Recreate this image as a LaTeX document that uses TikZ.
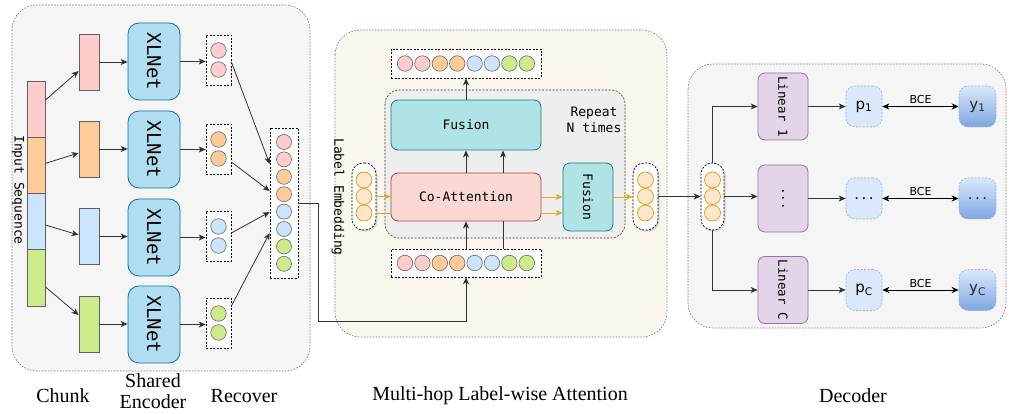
\documentclass[tikz,border=0pt]{standalone}
\usepackage{graphicx}
\usepackage{fontspec}
\setmainfont{Liberation Serif}
\newfontfamily\monof{DejaVu Sans Mono}
\newfontfamily\sansf{DejaVu Sans}
\usetikzlibrary{arrows.meta,shadows}
\definecolor{cpink}{HTML}{FFCCCC}
\definecolor{corange}{HTML}{FFCC99}
\definecolor{cblue}{HTML}{CCE5FF}
\definecolor{cgreen}{HTML}{CDEB8B}
\definecolor{cdark}{HTML}{36393D}
\definecolor{xlfill}{HTML}{B1DDF0}
\definecolor{xldraw}{HTML}{10739E}
\definecolor{fufill}{HTML}{B0E3E6}
\definecolor{fudraw}{HTML}{0E8088}
\definecolor{cofill}{HTML}{FAD9D5}
\definecolor{codraw}{HTML}{AE4132}
\definecolor{lifill}{HTML}{E1D5E7}
\definecolor{lidraw}{HTML}{9673A6}
\definecolor{pfill}{HTML}{DAE8FC}
\definecolor{pdraw}{HTML}{6C8EBF}
\definecolor{ydark}{HTML}{7EA6E0}
\definecolor{lefill}{HTML}{FFE6CC}
\definecolor{ledraw}{HTML}{D79B00}
\definecolor{panelA}{HTML}{F5F5F5}
\definecolor{panelB}{HTML}{F9F7ED}
\definecolor{repfill}{HTML}{EEEEEE}
\tikzset{
  panel/.style={draw=black!55, dash pattern=on 1.5pt off 1.5pt, rounded corners=25pt, line width=0.6pt},
  seg/.style={draw=cdark!80, line width=0.8pt, inner sep=0, minimum width=18pt, minimum height=56.25pt},
  chunkbox/.style={draw=cdark!80, line width=0.8pt, inner sep=0, minimum width=20pt, minimum height=56pt},
  xl/.style={draw=xldraw, fill=xlfill, line width=0.8pt, rounded corners=11pt, inner sep=0,
    minimum width=52pt, minimum height=77pt, font=\monof\fontsize{19}{19}\selectfont},
  dbox/.style={draw=black, fill=white, dash pattern=on 2pt off 1.5pt, line width=0.7pt, inner sep=0},
  pill/.style={draw=black, fill=white, dash pattern=on 2pt off 1.5pt, line width=0.7pt, inner sep=0,
    rounded corners=11pt, drop shadow={shadow xshift=1.5pt, shadow yshift=-1.5pt, opacity=0.3}},
  dot/.style={circle, draw=black!60, line width=0.6pt, minimum size=15.5pt, inner sep=0},
  ldot/.style={circle, draw=ledraw, fill=lefill, line width=0.7pt, minimum size=16pt, inner sep=0},
  mono/.style={font=\monof\fontsize{13}{16}\selectfont},
  fusbox/.style={draw=fudraw, fill=fufill, line width=0.8pt, rounded corners=7pt, inner sep=0, mono},
  cobox/.style={draw=codraw, fill=cofill, line width=0.8pt, rounded corners=7pt, inner sep=0, mono},
  linbox/.style={draw=lidraw, fill=lifill, line width=0.8pt, rounded corners=7pt, inner sep=0,
    minimum width=50pt, minimum height=67pt, font=\monof\fontsize{12.5}{15}\selectfont},
  pbox/.style={draw=pdraw!70, fill=pfill, dash pattern=on 2pt off 1.5pt, line width=0.6pt, rounded corners=9pt,
    inner sep=0, minimum width=36pt, minimum height=41pt, font=\sansf\fontsize{15}{15}\selectfont},
  ybox/.style={draw=pdraw!70, top color=pfill, bottom color=ydark, dash pattern=on 2pt off 1.5pt, line width=0.6pt,
    rounded corners=9pt, inner sep=0, minimum width=37pt, minimum height=41pt,
    font=\sansf\fontsize{15}{15}\selectfont, text=black!85},
  arr/.style={draw=black!80, line width=0.8pt, -{Stealth[length=7pt,width=6pt,inset=2pt]}},
  plain/.style={draw=black!80, line width=0.8pt},
  oarr/.style={draw=ledraw!85, line width=0.8pt, -{Stealth[length=7pt,width=6pt,inset=2pt]}},
  oplain/.style={draw=ledraw!85, line width=0.8pt},
  barr/.style={draw=black, line width=0.8pt, {Stealth[length=7pt,width=6pt,inset=2pt]}-{Stealth[length=7pt,width=6pt,inset=2pt]}},
  captxt/.style={font=\fontsize{20}{21}\selectfont, align=center}
}
\newcommand{\spdots}{.\hspace{2.5pt}.\hspace{2.5pt}.}
\begin{document}
\begin{tikzpicture}[x=1pt,y=-1pt]
\useasboundingbox[fill=white] (0,0) rectangle (1009,414);

% ---------- panels ----------
\draw[panel, fill=panelA] (12,5) rectangle (310,371);
\draw[panel, fill=panelB] (335,30) rectangle (667,337);
\draw[panel, fill=panelA] (688,64) rectangle (1006,328);

% ---------- panel 1 ----------
\node[seg, fill=cpink]   (s1) at (36,109.1) {};
\node[seg, fill=corange] (s2) at (36,165.4) {};
\node[seg, fill=cblue]   (s3) at (36,221.6) {};
\node[seg, fill=cgreen]  (s4) at (36,277.9) {};
\node[mono, rotate=-90] (inseq) at (18,190) {Input Sequence};

\node[chunkbox, fill=cpink]   (k1) at (89,62) {};
\node[chunkbox, fill=corange] (k2) at (89,149) {};
\node[chunkbox, fill=cblue]   (k3) at (89,236.5) {};
\node[chunkbox, fill=cgreen]  (k4) at (89,324) {};

\node[xl] (x1) at (154,61.5) {\rotatebox{-90}{XLNet}};
\node[xl] (x2) at (154,149.5) {\rotatebox{-90}{XLNet}};
\node[xl] (x3) at (154,237.5) {\rotatebox{-90}{XLNet}};
\node[xl] (x4) at (154,324.5) {\rotatebox{-90}{XLNet}};

\node[dbox, minimum width=25pt, minimum height=50pt] (r1) at (218.5,60) {};
\node[dbox, minimum width=25pt, minimum height=50pt] (r2) at (218.5,149) {};
\node[dbox, minimum width=25pt, minimum height=50pt] (r3) at (218.5,236) {};
\node[dbox, minimum width=25pt, minimum height=50pt] (r4) at (218.5,323) {};
\node[dot, fill=cpink]   (r1a) at (218.5,50.5) {};
\node[dot, fill=cpink]   (r1b) at (218.5,69.5) {};
\node[dot, fill=corange] (r2a) at (218.5,139.5) {};
\node[dot, fill=corange] (r2b) at (218.5,158.5) {};
\node[dot, fill=cblue]   (r3a) at (218.5,226.5) {};
\node[dot, fill=cblue]   (r3b) at (218.5,245.5) {};
\node[dot, fill=cgreen]  (r4a) at (218.5,313.5) {};
\node[dot, fill=cgreen]  (r4b) at (218.5,332.5) {};

\node[dbox, minimum width=28pt, minimum height=150pt] (cc) at (284,203) {};
\foreach \col [count=\i] in {cpink,cpink,corange,corange,cblue,cblue,cgreen,cgreen}
  \node[dot, minimum size=15pt, fill=\col] (cc\i) at (284,{142+17.4*(\i-1)}) {};

\draw[arr] ([yshift=9pt]s1.east) -- ([yshift=-9pt]k1.west);
\draw[arr] ([yshift=2pt]s2.east) -- ([yshift=-4pt]k2.west);
\draw[arr] ([yshift=-3.4pt]s3.east) -- ([yshift=1.5pt]k3.west);
\draw[arr] ([yshift=-9pt]s4.east) -- ([yshift=9pt]k4.west);
\foreach \i in {1,2,3,4} {
  \draw[arr] (k\i.east) -- (k\i.east -| x\i.west);
  \draw[arr] (x\i.east) -- (x\i.east -| r\i.west);
}
\draw[arr] ([yshift=-2pt]r1.east) -- ([yshift=39pt]cc.west);
\draw[arr] ([yshift=-13pt]r2.east) -- ([yshift=12pt]cc.west);
\draw[arr] ([yshift=3pt]r3.east) -- ([yshift=-9pt]cc.west);
\draw[arr] ([yshift=17pt]r4.east) -- ([yshift=-30pt]cc.west);

% ---------- panel 2 ----------
\draw[draw=cdark, fill=repfill, dash pattern=on 2pt off 1.5pt, line width=0.6pt, rounded corners=14pt]
  (385,90) rectangle (625,238);
\node[mono, align=center] (rep) at (594,120) {Repeat\\N times};

\node[dbox, minimum width=150pt, minimum height=29pt] (ts) at (466,63.5) {};
\node[dbox, minimum width=150pt, minimum height=28pt] (bs) at (466,263) {};
\foreach \col [count=\i] in {cpink,cpink,corange,corange,cblue,cblue,cgreen,cgreen} {
  \node[dot, fill=\col] (ts\i) at ({405+17.4*(\i-1)},63.5) {};
  \node[dot, fill=\col] (bs\i) at ({405+17.4*(\i-1)},263) {};
}

\node[fusbox, minimum width=150pt, minimum height=50pt] (fu) at (466,125) {Fusion};
\node[cobox, minimum width=150pt, minimum height=48pt] (co) at (466,197) {Co-Attention};
\node[fusbox, minimum width=50pt, minimum height=68pt] (fr) at (588,197) {\rotatebox{-90}{Fusion}};

\node[pill, minimum width=24pt, minimum height=67pt] (le) at (364,196.5) {};
\node[ldot] (le1) at (364,180) {};
\node[ldot] (le2) at (364,196.5) {};
\node[ldot] (le3) at (364,213) {};
\node[mono, rotate=-90] (letxt) at (338,197) {Label Embedding};

\node[pill, minimum width=25pt, minimum height=67pt] (ou) at (645.5,196.5) {};
\node[ldot] (ou1) at (645.5,180) {};
\node[ldot] (ou2) at (645.5,196.5) {};
\node[ldot] (ou3) at (645.5,213) {};

\draw[oarr] (le.east) -- (le.east -| co.west);
\draw[oplain] ([yshift=-16.5pt]le.east) -- ([yshift=-16.5pt]le.east -| co.west);
\draw[oarr] (co.east) -- (co.east -| fr.west);
\draw[oarr] ([yshift=-16pt]co.east) -- ([yshift=-16pt]co.east -| fr.west);
\draw[oarr] (fr.east) -- (fr.east -| ou.west);

\draw[arr] (co.north) -- (fu.south);
\draw[arr] ([xshift=37pt]co.north) -- ([xshift=37pt]fu.south);
\draw[arr] (fu.north) -- (ts.south);
\draw[arr] (bs.north) -- (co.south);
\draw[plain] ([xshift=37pt]bs.north) -- ([xshift=37pt]co.south);

\coordinate (j1) at (318,321);
\draw[arr] (cc.east) -| (j1) -| (bs.south);

% ---------- panel 3 ----------
\node[pill, minimum width=23pt, minimum height=67pt] (dp) at (712.5,196.5) {};
\node[ldot] (dp1) at (712.5,180) {};
\node[ldot] (dp2) at (712.5,196.5) {};
\node[ldot] (dp3) at (712.5,213) {};

\draw[arr] (ou.east) -- (ou.east -| dp.west);

\node[linbox] (l1) at (783,106.5) {\rotatebox{-90}{Linear 1}};
\node[linbox] (lm) at (783,198.5) {\rotatebox{-90}{...}};
\node[linbox] (lc) at (783,290) {\rotatebox{-90}{Linear C}};

\node[pbox] (p1) at (864,106.5) {p\textsubscript{1}};
\node[pbox] (pm) at (864,198.5) {\spdots};
\node[pbox] (pc) at (864,290) {p\textsubscript{C}};

\node[ybox] (y1) at (977.5,106.5) {y\textsubscript{1}};
\node[ybox] (ym) at (977.5,198.5) {\spdots};
\node[ybox] (yc) at (977.5,290) {y\textsubscript{C}};

\draw[arr] (dp.north) |- (l1.west);
\draw[arr] (dp.east) -- (dp.east -| lm.west);
\draw[arr] (dp.south) |- (lc.west);
\draw[arr] (l1.east) -- (p1.west);
\draw[arr] (lm.east) -- (pm.west);
\draw[arr] (lc.east) -- (pc.west);
\foreach \a/\b in {p1/y1,pm/ym,pc/yc}
  \draw[barr] (\a.east) -- node[above=-1pt, font=\sansf\fontsize{11}{11}\selectfont] {BCE} (\b.west);

% ---------- captions ----------
\node[captxt] (t1) at (63,396) {Chunk};
\node[captxt] (t2) at (153,391.5) {Shared\\Encoder};
\node[captxt] (t3) at (244,396) {Recover};
\node[captxt] (t4) at (500,396) {Multi-hop Label-wise Attention};
\node[captxt] (t5) at (853,396) {Decoder};
\end{tikzpicture}
\end{document}
